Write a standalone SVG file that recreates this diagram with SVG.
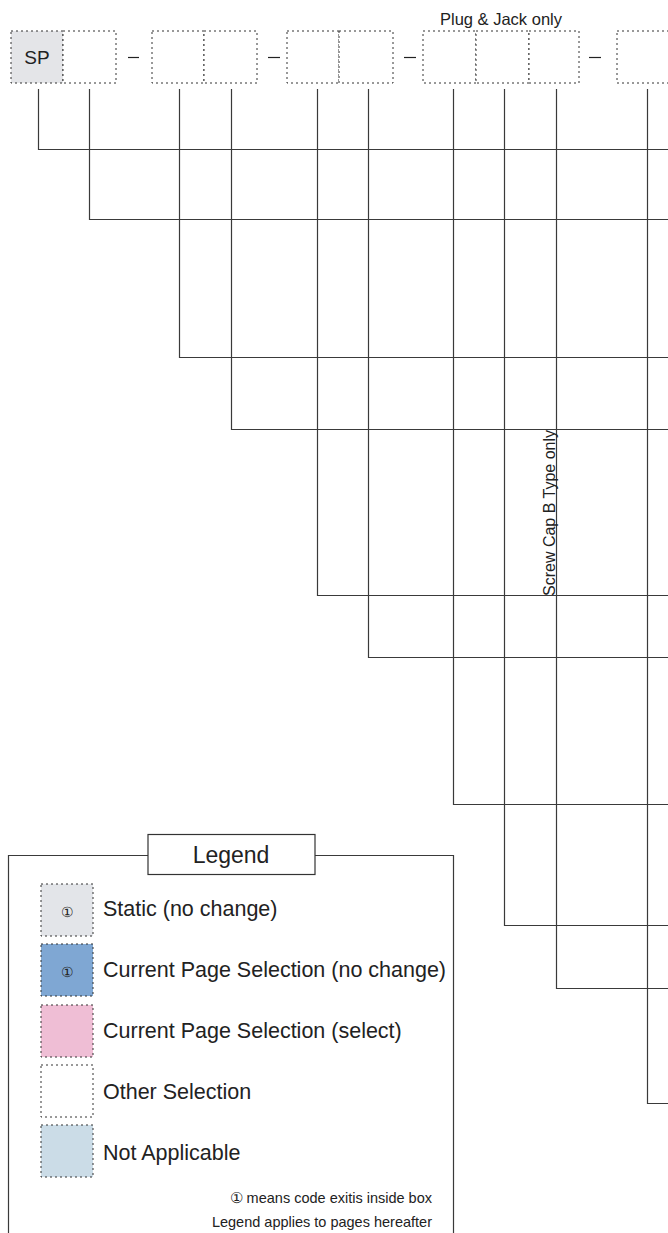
<svg xmlns="http://www.w3.org/2000/svg" width="668" height="1233" viewBox="0 0 668 1233">
<style>
.box{fill:#fff;stroke:#333;stroke-width:1;stroke-dasharray:2,3}
.ln{fill:none;stroke:#3a3a3a;stroke-width:1.2}
.t{font-family:"Liberation Sans",Arial,sans-serif;fill:#222}
.lg{font-size:21.5px}
</style>
<rect width="668" height="1233" fill="#fff"/>
<g id="code-boxes">
<rect class="box" x="11" y="31" width="52" height="52" style="fill:#e4e5e8"/>
<rect class="box" x="63" y="31" width="53" height="52"/>
<rect class="box" x="152" y="31" width="52" height="52"/>
<rect class="box" x="204" y="31" width="53" height="52"/>
<rect class="box" x="287" y="31" width="52" height="52"/>
<rect class="box" x="339" y="31" width="54" height="52"/>
<rect class="box" x="423" y="31" width="53" height="52"/>
<rect class="box" x="476" y="31" width="53" height="52"/>
<rect class="box" x="529" y="31" width="50" height="52"/>
<rect class="box" x="617" y="31" width="70" height="52"/>
<text class="t" x="37" y="64" font-size="19" text-anchor="middle">SP</text>
<g stroke="#222" stroke-width="1.2">
<line x1="128" y1="57.5" x2="139" y2="57.5"/>
<line x1="268" y1="57.5" x2="280" y2="57.5"/>
<line x1="404" y1="57.5" x2="416" y2="57.5"/>
<line x1="589" y1="57.5" x2="601" y2="57.5"/>
</g>
<text class="t" x="501" y="25" font-size="16.5" text-anchor="middle">Plug &amp; Jack only</text>
</g>
<g id="connectors" class="ln">
<path class="ln" d="M38.5 89 V149.5 H668"/>
<path class="ln" d="M89.5 89 V219.5 H668"/>
<path class="ln" d="M179.5 89 V357.5 H668"/>
<path class="ln" d="M231.5 89 V429.5 H668"/>
<path class="ln" d="M317.5 89 V595.5 H668"/>
<path class="ln" d="M368.5 89 V657.5 H668"/>
<path class="ln" d="M453.5 89 V804.5 H668"/>
<path class="ln" d="M504.5 89 V925.5 H668"/>
<path class="ln" d="M556.5 89 V988.5 H668"/>
<path class="ln" d="M647.5 89 V1103.5 H668"/>
</g>
<text class="t" x="0" y="0" font-size="16" transform="translate(555 596) rotate(-90)">Screw Cap B Type only</text>
<g id="legend">
<path class="ln" d="M8.5 1233 V855.5 H148 M315 855.5 H453.5 V1233"/>
<rect x="148" y="834.5" width="167" height="40" fill="#fff" stroke="#333" stroke-width="1.2"/>
<text class="t" x="231" y="863" font-size="23" text-anchor="middle">Legend</text>
<rect class="box" x="41" y="884" width="52" height="52" style="fill:#e3e5e9"/>
<rect class="box" x="41" y="944" width="52" height="52" style="fill:#7fa7d3"/>
<rect class="box" x="41" y="1005" width="52" height="52" style="fill:#efbed5"/>
<rect class="box" x="41" y="1065" width="52" height="52"/>
<rect class="box" x="41" y="1125" width="52" height="52" style="fill:#cbdce7"/>
<text class="t" x="67" y="917" font-size="14" text-anchor="middle" fill="#444">①</text>
<text class="t" x="67" y="977" font-size="14" text-anchor="middle" fill="#333">①</text>
<text class="t lg" x="103" y="916">Static (no change)</text>
<text class="t lg" x="103" y="977">Current Page Selection (no change)</text>
<text class="t lg" x="103" y="1038">Current Page Selection (select)</text>
<text class="t lg" x="103" y="1099">Other Selection</text>
<text class="t lg" x="103" y="1160">Not Applicable</text>
<text class="t" x="432" y="1203" font-size="14.5" text-anchor="end">① means code exitis inside box</text>
<text class="t" x="432" y="1227" font-size="14.5" text-anchor="end">Legend applies to pages hereafter</text>
</g>
</svg>
